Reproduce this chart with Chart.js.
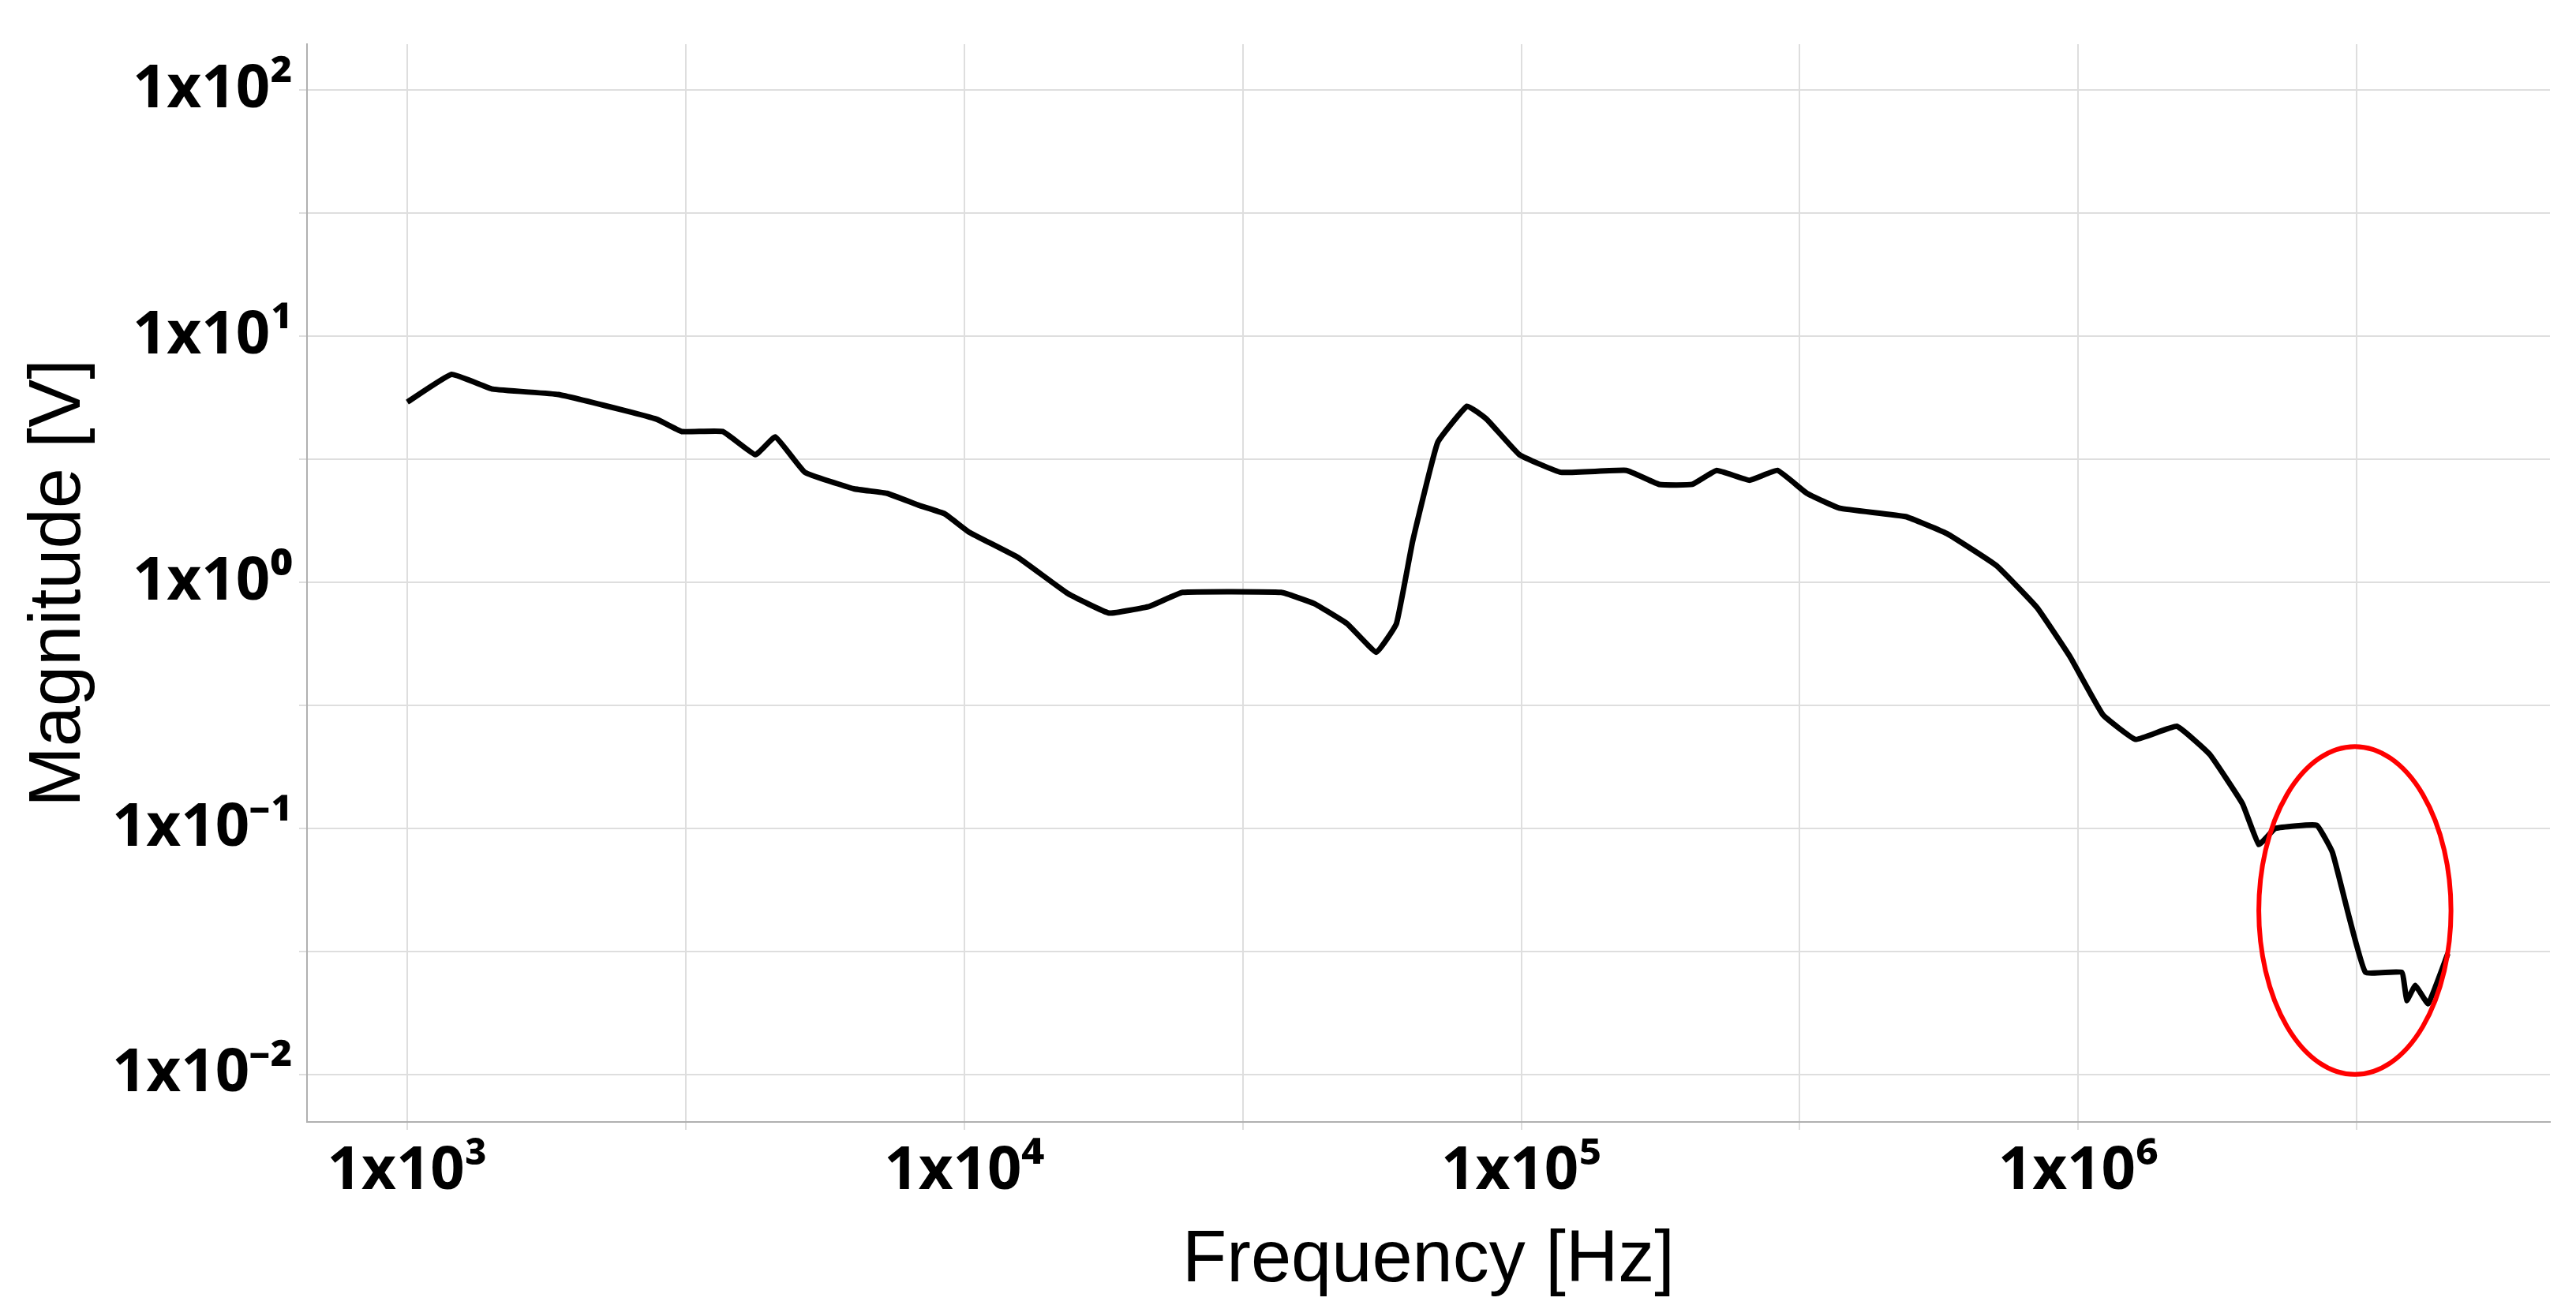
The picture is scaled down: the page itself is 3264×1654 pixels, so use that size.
<!DOCTYPE html>
<html>
<head>
<meta charset="utf-8">
<script src="https://cdn.jsdelivr.net/npm/chart.js@4/dist/chart.umd.min.js"></script>
<style>
html, body { margin: 0; padding: 0; background: #fff; }
#wrap { width: 3264px; height: 1654px; }
</style>
</head>
<body>
<div id="wrap"><canvas id="myChart" width="3264" height="1654"></canvas></div>
<script>
// Données
const frequency = [1000, 1201, 1424, 1868, 2450, 2805, 3110, 3684, 4218, 4580, 5175, 6340, 7265, 8320, 9220,
  10200, 12500, 15350, 18200, 21540, 24660, 37070, 42460, 48640, 54950, 59700, 63840, 70790, 79980, 86700,
  99300, 117800, 154500, 177000, 202700, 224400, 257000, 288400, 325800, 373300, 489800, 580700, 712900,
  843300, 966000, 1107000, 1268000, 1503000, 1722000, 1972000, 2110000, 2260000, 2680000, 2860000, 3070000,
  3280000, 3810000, 3890000, 4030000, 4250000, 4610000];
const magnitude = [5.4, 7.0, 6.1, 5.8, 5.0, 4.6, 4.1, 4.1, 3.3, 3.9, 2.8, 2.4, 2.3, 2.05, 1.9,
  1.6, 1.26, 0.9, 0.75, 0.8, 0.91, 0.91, 0.82, 0.68, 0.52, 0.68, 1.47, 3.7, 5.2, 4.6,
  3.3, 2.8, 2.85, 2.5, 2.5, 2.85, 2.6, 2.85, 2.3, 2.0, 1.85, 1.58, 1.17,
  0.79, 0.5, 0.29, 0.23, 0.26, 0.2, 0.126, 0.086, 0.1, 0.103, 0.08, 0.043,
  0.026, 0.026, 0.02, 0.023, 0.0194, 0.031];
const xRange = [Math.pow(10, 2.82), Math.pow(10, 6.847)];
const yRange = [Math.pow(10, -2.193), Math.pow(10, 2.187)];
// Ellipse rouge (zone entourée)
const ellipseBox = { x1: 2110000, x2: 4670000, yTop: 0.215, yBottom: 0.01 };

const sup = { '-': '\u207B', '0': '\u2070', '1': '\u00B9', '2': '\u00B2', '3': '\u00B3', '4': '\u2074', '5': '\u2075', '6': '\u2076' };
function label(v) {
  let e = String(Math.round(Math.log10(v)));
  return '1x10' + e.split('').map(c => sup[c]).join('');
}
function halfDecades(min, max) {
  let t = [];
  for (let k = Math.ceil(Math.log10(min) * 2); k / 2 <= Math.log10(max); k++) t.push({ value: Math.pow(10, k / 2) });
  return t;
}
function isDecade(v) { return Math.abs(Math.log10(v) - Math.round(Math.log10(v))) < 1e-6; }

const ellipsePlugin = {
  id: 'ellipse',
  afterDatasetsDraw(chart) {
    const c = chart.ctx, sx = chart.scales.x, sy = chart.scales.y;
    const x1 = sx.getPixelForValue(ellipseBox.x1), x2 = sx.getPixelForValue(ellipseBox.x2);
    const y1 = sy.getPixelForValue(ellipseBox.yTop), y2 = sy.getPixelForValue(ellipseBox.yBottom);
    c.save();
    c.strokeStyle = '#ff0000';
    c.lineWidth = 6;
    c.beginPath();
    c.ellipse((x1 + x2) / 2, (y1 + y2) / 2, (x2 - x1) / 2, (y2 - y1) / 2, 0, 0, Math.PI * 2);
    c.stroke();
    c.restore();
  }
};

const ctx = document.getElementById('myChart').getContext('2d');
new Chart(ctx, {
  type: 'line',
  data: {
    datasets: [{
      data: frequency.map((f, i) => ({ x: f, y: magnitude[i] })),
      borderColor: '#000',
      borderWidth: 7,
      pointRadius: 0,
      tension: 0.1
    }]
  },
  options: {
    responsive: false,
    animation: false,
    layout: { padding: { top: 56, right: 33 } },
    plugins: { legend: { display: false }, tooltip: { enabled: false } },
    scales: {
      x: {
        type: 'logarithmic', min: xRange[0], max: xRange[1],
        afterBuildTicks: s => { s.ticks = halfDecades(xRange[0], xRange[1]); },
        afterFit: s => { s.height = 232; },
        grid: { color: '#dedede', lineWidth: 2, drawTicks: true, tickLength: 10 },
        border: { color: '#b0b0b0', width: 2 },
        ticks: {
          autoSkip: false, maxRotation: 0, color: '#000', padding: 8,
          font: { family: 'Open Sans', size: 76, weight: 'bold' },
          callback: v => isDecade(v) ? label(v) : ''
        },
        title: { display: true, text: 'Frequency [Hz]', color: '#000', padding: { top: -8, bottom: 0 },
          font: { family: 'Liberation Sans', size: 92 } }
      },
      y: {
        type: 'logarithmic', min: yRange[0], max: yRange[1],
        afterBuildTicks: s => { s.ticks = halfDecades(yRange[0], yRange[1]); },
        afterFit: s => { s.width = 389; },
        grid: { color: '#dedede', lineWidth: 2, tickLength: 10 },
        border: { color: '#b0b0b0', width: 2 },
        ticks: {
          autoSkip: false, color: '#000', padding: 8,
          font: { family: 'Open Sans', size: 76, weight: 'bold' },
          callback: v => isDecade(v) ? label(v) : ''
        },
        title: { display: true, text: 'Magnitude [V]', color: '#000', padding: { top: 20, bottom: 0 },
          font: { family: 'Liberation Sans', size: 92 } }
      }
    }
  },
  plugins: [ellipsePlugin]
});
</script>
</body>
</html>
